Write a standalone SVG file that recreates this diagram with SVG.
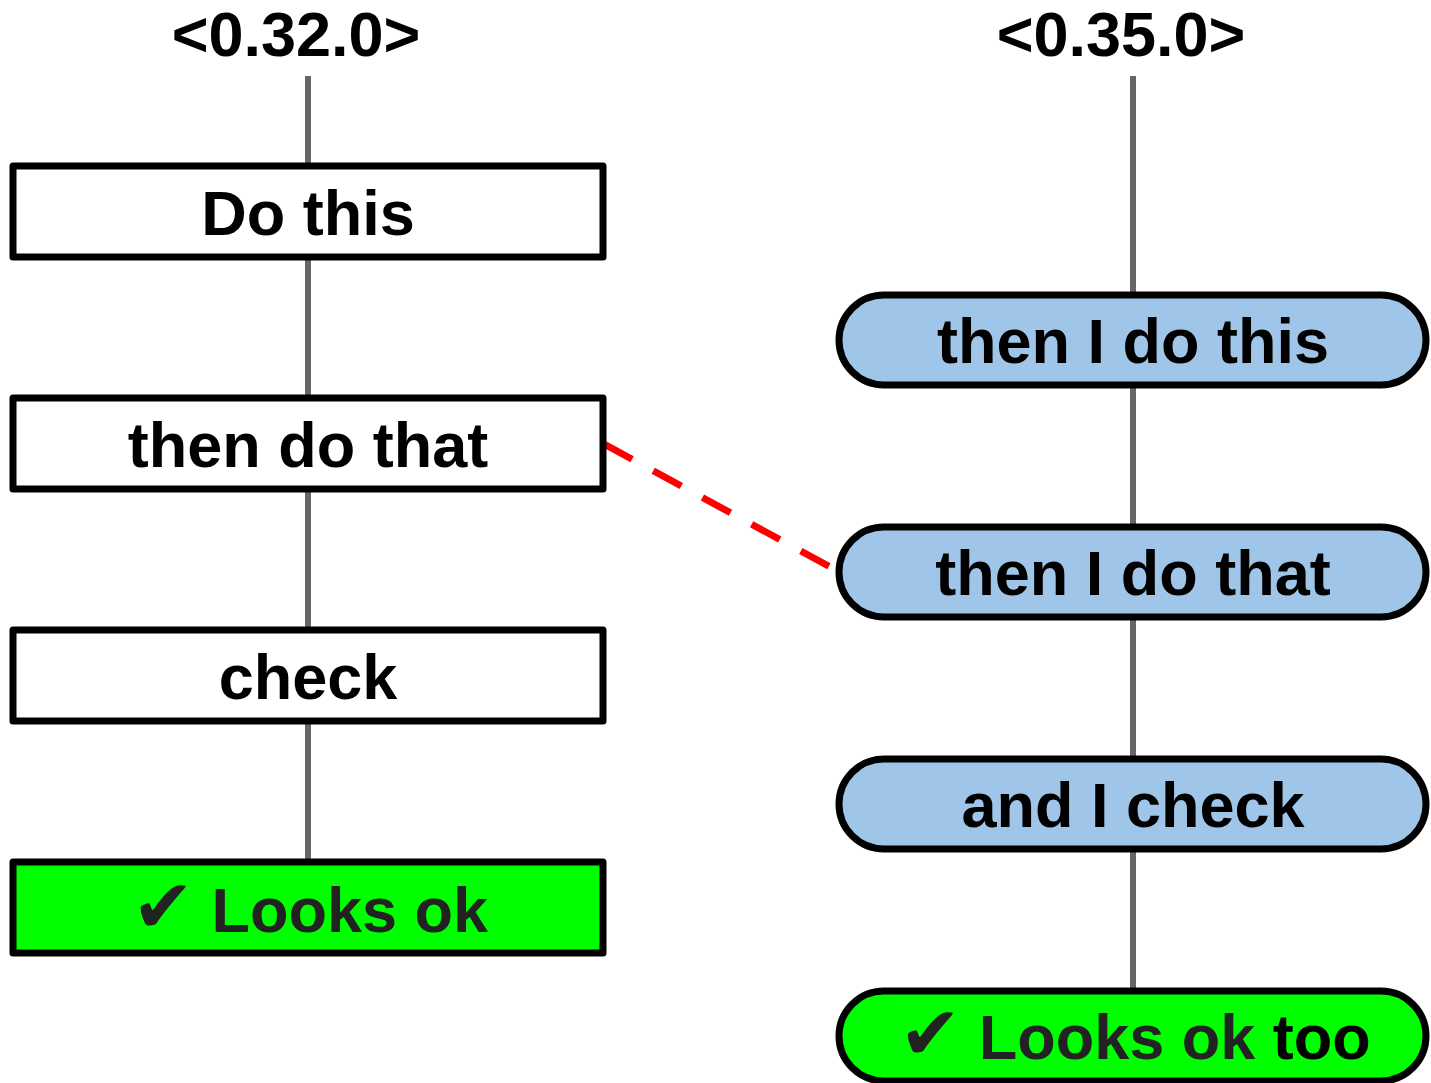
<svg xmlns="http://www.w3.org/2000/svg" width="1431" height="1083" viewBox="0 0 1431 1083">
  <style>
    .lbl { font-family: "Liberation Sans", Arial, "DejaVu Sans", sans-serif; font-weight: bold; font-size: 63px; text-anchor: middle; fill: #000; }
    .head { font-size: 63px; }
    .tick { font-family: "DejaVu Sans", sans-serif; font-weight: normal; font-size: 74px; }
    .box { fill: #fff; stroke: #000; stroke-width: 7; stroke-linejoin: round; }
    .pill { fill: #9fc5e8; stroke: #000; stroke-width: 7; }
    .ok { fill: #00ff00; }
    .dim { fill: #222; }
    .edge { stroke: #666; stroke-width: 6; fill: none; }
    .link { stroke: #ff0000; stroke-width: 7; stroke-dasharray: 32 24; fill: none; }
  </style>
  <rect width="1431" height="1083" fill="#fff"/>

  <!-- version headers -->
  <text id="head-left" class="lbl head" x="296" y="56">&lt;0.32.0&gt;</text>
  <text id="head-right" class="lbl head" x="1121" y="56">&lt;0.35.0&gt;</text>

  <!-- connectors -->
  <g id="connectors">
    <line class="edge" x1="308" y1="76" x2="308" y2="166"/>
    <line class="edge" x1="308" y1="257" x2="308" y2="398"/>
    <line class="edge" x1="308" y1="489" x2="308" y2="630"/>
    <line class="edge" x1="308" y1="721" x2="308" y2="862"/>
    <line class="edge" x1="1133" y1="76" x2="1133" y2="295"/>
    <line class="edge" x1="1133" y1="385" x2="1133" y2="527"/>
    <line class="edge" x1="1133" y1="617" x2="1133" y2="759"/>
    <line class="edge" x1="1133" y1="849" x2="1133" y2="991"/>
    <line class="link" x1="604" y1="444" x2="834" y2="569"/>
  </g>

  <!-- left column -->
  <g id="l-do-this">
    <rect class="box" x="13" y="166" width="590" height="91"/>
    <text class="lbl" x="308" y="235">Do this</text>
  </g>
  <g id="l-then-do-that">
    <rect class="box" x="13" y="398" width="590" height="91"/>
    <text class="lbl" x="308" y="467">then do that</text>
  </g>
  <g id="l-check">
    <rect class="box" x="13" y="630" width="590" height="91"/>
    <text class="lbl" x="308" y="699">check</text>
  </g>
  <g id="l-looks-ok">
    <rect class="box ok" x="13" y="862" width="590" height="91"/>
    <text class="lbl dim" x="310" y="932"><tspan class="tick">✔</tspan> Looks ok</text>
  </g>

  <!-- right column -->
  <g id="r-do-this">
    <rect class="pill" x="839" y="295" width="587" height="90" rx="45"/>
    <text class="lbl" x="1133" y="363">then I do this</text>
  </g>
  <g id="r-do-that">
    <rect class="pill" x="839" y="527" width="587" height="90" rx="45"/>
    <text class="lbl" x="1133" y="595">then I do that</text>
  </g>
  <g id="r-check">
    <rect class="pill" x="839" y="759" width="587" height="90" rx="45"/>
    <text class="lbl" x="1133" y="827">and I check</text>
  </g>
  <g id="r-looks-ok-too">
    <rect class="pill ok" x="839" y="991" width="587" height="90" rx="45"/>
    <text class="lbl" x="1135" y="1059"><tspan class="dim"><tspan class="tick">✔</tspan> Looks ok</tspan> too</text>
  </g>
</svg>
